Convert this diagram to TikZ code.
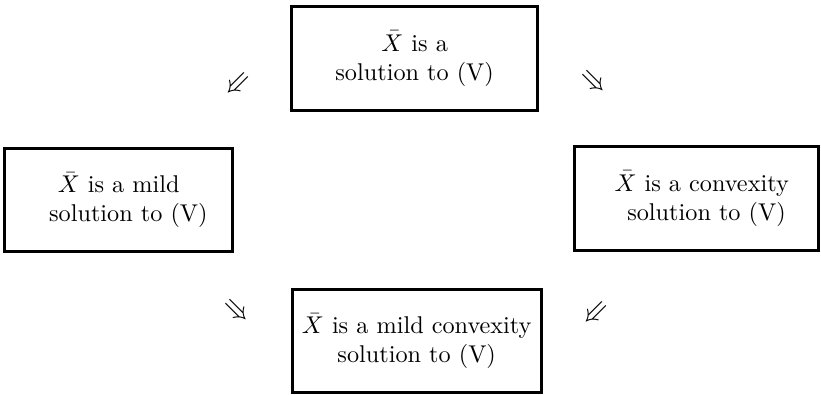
\documentclass[tikz,border=0pt]{standalone}
\usepackage{amsmath, amssymb}
\usetikzlibrary{positioning}
\tikzset{
    solbox/.style={rectangle, draw, very thick, align=center, minimum height=1.50cm},
    implies/.style={inner sep=0pt, font=\large},
}
\begin{document}
\begin{tikzpicture}
    \useasboundingbox (0,0) rectangle (11.90,-5.72);

    % Kästen
    \node[solbox, minimum width=3.57cm] (sol) at (6.01,-0.85) {$\bar{X}$ is a\\ solution to (V)};
    \node[solbox, minimum width=3.30cm] (mild) at (1.72,-2.90) {$\bar{X}$ is a mild\\ \hspace*{8pt}solution to (V)};
    \node[solbox, minimum width=3.54cm] (conv) at (10.10,-2.88) {\hspace*{4pt}$\bar{X}$ is a convexity\\ \hspace*{8pt}solution to (V)};
    \node[solbox, minimum width=3.61cm] (mildconv) at (6.04,-4.94) {$\bar{X}$ is a mild convexity\\ solution to (V)};

    % Implikationen
    \node[implies, rotate=-135] (solmild) at (3.42,-1.20) {$\Rightarrow$};
    \node[implies, rotate=-45] (solconv) at (8.59,-1.20) {$\Rightarrow$};
    \node[implies, rotate=-45] (mildmc) at (3.42,-4.52) {$\Rightarrow$};
    \node[implies, rotate=-135] (convmc) at (8.61,-4.52) {$\Rightarrow$};
\end{tikzpicture}
\end{document}
